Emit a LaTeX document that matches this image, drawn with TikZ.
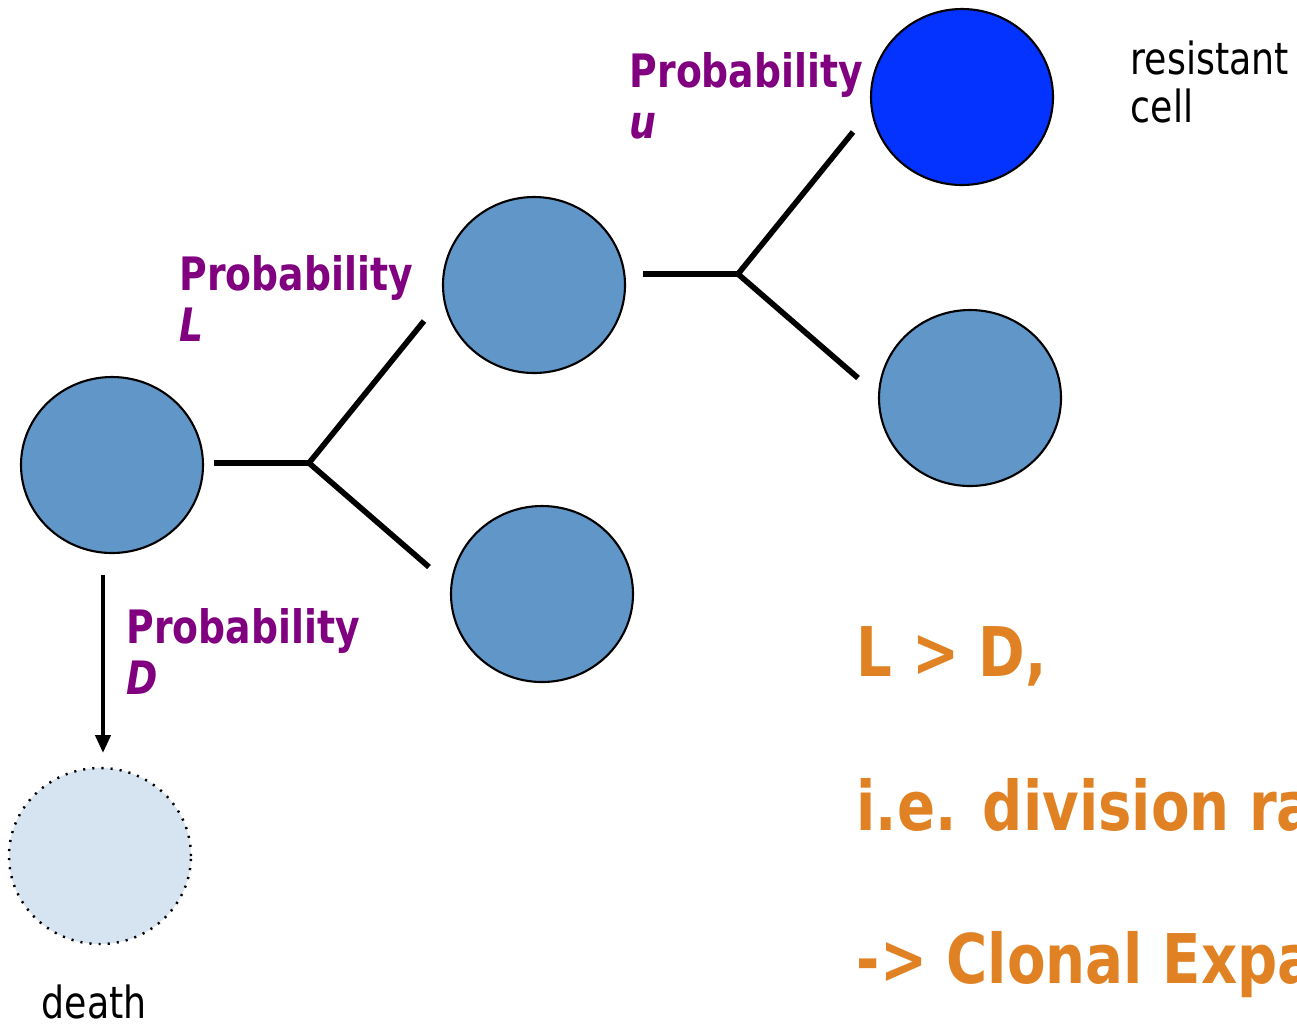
\documentclass[tikz,border=0pt]{standalone}
\usepackage{fontspec}
\setmainfont[FakeStretch=0.82]{DejaVu Sans}
\usepackage{xcolor}
\usepackage{tikz}
\usetikzlibrary{arrows.meta,shapes.geometric}
\definecolor{cellblue}{RGB}{97,150,200}
\definecolor{resblue}{RGB}{4,51,255}
\definecolor{deadblue}{RGB}{214,227,240}
\definecolor{probpurple}{RGB}{128,0,128}
\definecolor{noteorange}{RGB}{224,130,36}
\tikzset{
  cell/.style={ellipse, draw=black, line width=0.6pt, fill=cellblue,
    minimum width=1.82cm, minimum height=1.76cm, inner sep=0pt},
  rescell/.style={cell, fill=resblue},
  deadcell/.style={cell, fill=deadblue, dotted, line width=0.7pt},
  forkline/.style={line width=1.6pt, draw=black},
  deatharrow/.style={-{Triangle[length=0.18cm, width=0.15cm]}, line width=1.2pt},
  problabel/.style={anchor=north west, inner sep=0pt, align=left,
    text=probpurple, font=\fontsize{13.1pt}{14.5pt}\selectfont\bfseries},
  celllabel/.style={inner sep=0pt, align=left,
    font=\fontsize{12.6pt}{13.7pt}\selectfont},
  notelabel/.style={anchor=north west, inner sep=0pt, align=left,
    text=noteorange, font=\fontsize{19.5pt}{43.7pt}\selectfont\bfseries}
}

\begin{document}
\begin{tikzpicture}
  \path[use as bounding box, clip] (0,0) rectangle (12.97,-10.24);
  % cells
  \node[cell] (c1) at (1.12,-4.65) {};
  \node[cell] (c2) at (5.34,-2.85) {};
  \node[cell] (c3) at (5.42,-5.94) {};
  \node[rescell] (cr) at (9.62,-0.97) {};
  \node[cell] (c5) at (9.70,-3.98) {};
  \node[deadcell] (cd) at (1.00,-8.56) {};
  % first division
  \coordinate (f1s) at (2.14,-4.63);
  \coordinate (j1) at (3.09,-4.63);
  \coordinate (f1u) at (4.24,-3.21);
  \coordinate (f1d) at (4.29,-5.67);
  \draw[forkline] (f1s) -- (j1) -- (f1u);
  \draw[forkline] (j1) -- (f1d);
  % second division
  \coordinate (f2s) at (6.43,-2.74);
  \coordinate (j2) at (7.38,-2.74);
  \coordinate (f2u) at (8.53,-1.32);
  \coordinate (f2d) at (8.58,-3.78);
  \draw[forkline] (f2s) -- (j2) -- (f2u);
  \draw[forkline] (j2) -- (f2d);
  % death
  \coordinate (aS) at (1.03,-5.75);
  \coordinate (aE) at (1.03,-7.53);
  \draw[deatharrow] (aS) -- (aE);
  % labels
  \node[problabel] (pu) at (6.29,-0.52) {Probability\\\itshape u};
  \node[problabel] (pL) at (1.79,-2.55) {Probability\\\itshape L};
  \node[problabel] (pD) at (1.26,-6.08) {Probability\\\itshape D};
  \node[celllabel, anchor=north west] (lr) at (11.30,-0.40) {resistant\\cell};
  \node[celllabel, anchor=base west] (ld) at (0.41,-10.18) {death};
  \node[notelabel] (note) at (8.56,-6.26) {L > D,\\i.e. division ra\\-> Clonal Expa};
\end{tikzpicture}
\end{document}
